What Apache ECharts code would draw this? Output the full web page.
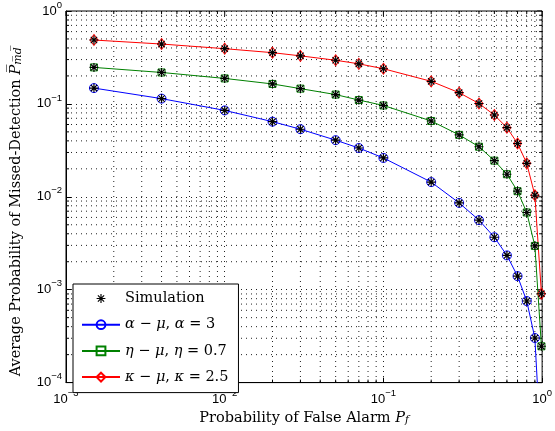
<!DOCTYPE html>
<html><head><meta charset="utf-8">
<script src="https://cdn.jsdelivr.net/npm/echarts@6/dist/echarts.min.js"></script>
<style>html,body{margin:0;padding:0;background:#fff}#c{width:555px;height:431px}</style>
</head><body><div id="c"></div>
<script>
// Probability of false alarm (x)
const pf = [0.0015, 0.004, 0.01, 0.02, 0.03, 0.05, 0.07, 0.1, 0.2, 0.3, 0.4, 0.5, 0.6, 0.7, 0.8, 0.9, 0.99];
// Average probability of missed detection (y)
const alphaMu = [0.148, 0.114, 0.0851, 0.0644, 0.0534, 0.0407, 0.0335, 0.0262, 0.0144, 0.00859, 0.00561, 0.00367, 0.00234, 0.00140, 0.000755, 0.000302, 0.000015];
const etaMu   = [0.247, 0.218, 0.188, 0.164, 0.146, 0.126, 0.110, 0.0962, 0.0655, 0.0464, 0.0346, 0.0245, 0.0175, 0.0115, 0.00678, 0.00296, 0.000246];
const kappaMu = [0.487, 0.441, 0.393, 0.356, 0.329, 0.295, 0.270, 0.239, 0.175, 0.132, 0.101, 0.0759, 0.0555, 0.0375, 0.0229, 0.0104, 0.000905];

const seriesNames = ['α − μ, α = 3', 'η − μ, η = 0.7', 'κ − μ, κ = 2.5'];
const simName = 'Simulation';

// axis ticks
const majorX = [0.001, 0.01, 0.1, 1];
const minorX = [0.002,0.003,0.004,0.005,0.006,0.007,0.008,0.009,
                0.02,0.03,0.04,0.05,0.06,0.07,0.08,0.09,
                0.2,0.3,0.4,0.5,0.6,0.7,0.8,0.9];
const majorY = [0.0001, 0.001, 0.01, 0.1, 1];
const minorY = [0.0002,0.0003,0.0004,0.0005,0.0006,0.0007,0.0008,0.0009,
                0.002,0.003,0.004,0.005,0.006,0.007,0.008,0.009,
                0.02,0.03,0.04,0.05,0.06,0.07,0.08,0.09,
                0.2,0.3,0.4,0.5,0.6,0.7,0.8,0.9];

const asterisk = 'path://M-1.3,-10L1.3,-10L1.3,10L-1.3,10Z M-10,-1.3L10,-1.3L10,1.3L-10,1.3Z M-7.99,-6.15L-6.15,-7.99L7.99,6.15L6.15,7.99Z M-7.99,6.15L6.15,-7.99L7.99,-6.15L-6.15,7.99Z';

const SERIF = '"DejaVu Serif", "Liberation Serif", serif';
const SANS = '"Liberation Sans", Arial, sans-serif';

function expLabel(v) {
  const e = Math.round(Math.log10(v));
  return '{b|10}{s|' + (e < 0 ? '\u2212' + (-e) : e) + '}';
}
const labelRich = {
  b: {fontSize: 13, fontFamily: SANS, color: '#000', lineHeight: 22},
  s: {fontSize: 9.5, fontFamily: SANS, color: '#000', lineHeight: 10, verticalAlign: 'top'}
};

const colors = ['#0000ff', '#008000', '#ff0000'];
const symbols = ['circle', 'rect', 'diamond'];
const sizes = [9, 7, [8, 11]];
const values = [alphaMu, etaMu, kappaMu];

const series = [];
// grid + ticks (decorative)
series.push({
  type: 'custom', silent: true, z: 1, clip: false,
  data: minorX.map(v => [v]), encode: {x: 0},
  renderItem: function (params, api) {
    const cs = params.coordSys;
    const px = api.coord([api.value(0), 1])[0];
    const top = cs.y, bot = cs.y + cs.height;
    return {type: 'group', children: [
      {type: 'line', shape: {x1: px, y1: top, x2: px, y2: bot}, style: {stroke: '#222', lineWidth: 1, lineDash: [1, 4]}},
      {type: 'line', shape: {x1: px, y1: bot, x2: px, y2: bot - 3}, style: {stroke: '#000', lineWidth: 1}},
      {type: 'line', shape: {x1: px, y1: top, x2: px, y2: top + 3}, style: {stroke: '#000', lineWidth: 1}}
    ]};
  }
});
series.push({
  type: 'custom', silent: true, z: 1, clip: false,
  data: minorY.map(v => [v]), encode: {y: 0},
  renderItem: function (params, api) {
    const cs = params.coordSys;
    const py = api.coord([0.01, api.value(0)])[1];
    const l = cs.x, r = cs.x + cs.width;
    return {type: 'group', children: [
      {type: 'line', shape: {x1: l, y1: py, x2: r, y2: py}, style: {stroke: '#222', lineWidth: 1, lineDash: [1, 4]}},
      {type: 'line', shape: {x1: l, y1: py, x2: l + 3, y2: py}, style: {stroke: '#000', lineWidth: 1}},
      {type: 'line', shape: {x1: r, y1: py, x2: r - 3, y2: py}, style: {stroke: '#000', lineWidth: 1}}
    ]};
  }
});
series.push({
  type: 'custom', silent: true, z: 1, clip: false,
  data: majorX.map(v => [v]), encode: {x: 0},
  renderItem: function (params, api) {
    const cs = params.coordSys;
    const px = api.coord([api.value(0), 1])[0];
    const top = cs.y;
    return {type: 'line', shape: {x1: px, y1: top, x2: px, y2: top + 5}, style: {stroke: '#000', lineWidth: 1}};
  }
});
series.push({
  type: 'custom', silent: true, z: 1, clip: false,
  data: majorY.map(v => [v]), encode: {y: 0},
  renderItem: function (params, api) {
    const cs = params.coordSys;
    const py = api.coord([0.01, api.value(0)])[1];
    const r = cs.x + cs.width;
    return {type: 'line', shape: {x1: r, y1: py, x2: r - 5, y2: py}, style: {stroke: '#000', lineWidth: 1}};
  }
});

for (let k = 0; k < 3; k++) {
  series.push({
    name: seriesNames[k], type: 'line', z: 3,
    data: pf.map((x, i) => [x, values[k][i]]),
    symbol: symbols[k], symbolSize: sizes[k], showAllSymbol: true,
    itemStyle: {color: 'rgba(255,255,255,0)', borderColor: colors[k], borderWidth: 1},
    lineStyle: {color: colors[k], width: 1},
    emphasis: {disabled: true}
  });
}
for (let k = 0; k < 3; k++) {
  series.push({
    name: simName, type: 'line', z: 4,
    data: pf.map((x, i) => [x, values[k][i]]),
    symbol: asterisk, symbolSize: 9, showAllSymbol: true,
    itemStyle: {color: '#000'},
    lineStyle: {width: 0, opacity: 0},
    emphasis: {disabled: true}
  });
}

const chart = echarts.init(document.getElementById('c'));
chart.setOption({
  animation: false,
  backgroundColor: '#fff',
  grid: {left: 66, right: 11, top: 9, bottom: 47, show: true, borderColor: '#000', borderWidth: 1, backgroundColor: 'transparent'},
  legend: {
    data: [simName].concat(seriesNames),
    orient: 'vertical', left: 73, top: 284,
    backgroundColor: '#fff', borderColor: '#000', borderWidth: 1, borderRadius: 0,
    padding: [7, 10, 8, 8],
    itemWidth: 38, itemHeight: 11, itemGap: 11.2,
    selectedMode: false,
    textStyle: {fontFamily: SERIF, fontSize: 14.5, color: '#000',
      rich: {g: {fontFamily: SERIF, fontSize: 14.5, fontStyle: 'italic', color: '#000'}}},
    formatter: n => n.replace(/([αμηκ])/g, '{g|$1}')
  },
  xAxis: {
    type: 'log', logBase: 10, min: 0.001, max: 1,
    axisLine: {show: true, lineStyle: {color: '#000', width: 1}},
    axisTick: {show: true, inside: true, length: 5, lineStyle: {color: '#000'}},
    splitLine: {show: true, lineStyle: {color: '#222', type: [1, 4], width: 1}},
    axisLabel: {margin: 6, formatter: expLabel, rich: labelRich},
    name: 'Probability of False Alarm {i|P}{sub|f}',
    nameLocation: 'middle', nameGap: 20,
    nameTextStyle: {fontFamily: SERIF, fontSize: 14.5, color: '#000',
      rich: {i: {fontFamily: SERIF, fontStyle: 'italic', fontSize: 14.5, color: '#000'},
             sub: {fontFamily: SERIF, fontStyle: 'italic', fontSize: 10.5, color: '#000', verticalAlign: 'bottom', lineHeight: 12}}}
  },
  yAxis: {
    type: 'log', logBase: 10, min: 0.0001, max: 1,
    axisLine: {show: true, lineStyle: {color: '#000', width: 1}},
    axisTick: {show: true, inside: true, length: 5, lineStyle: {color: '#000'}},
    splitLine: {show: true, lineStyle: {color: '#222', type: [1, 4], width: 1}},
    axisLabel: {margin: 4, formatter: expLabel, rich: labelRich},
    name: 'Average Probability of Missed-Detection {i|P\u0305}{sub|m\u0305d\u0305}',
    nameLocation: 'middle', nameGap: 42, nameRotate: 90,
    nameTextStyle: {fontFamily: SERIF, fontSize: 14.5, color: '#000', padding: [0, 30, 0, 0],
      rich: {i: {fontFamily: SERIF, fontStyle: 'italic', fontSize: 15, color: '#000'},
             sub: {fontFamily: SERIF, fontStyle: 'italic', fontSize: 11, color: '#000', verticalAlign: 'bottom', lineHeight: 12}}}
  },
  series: series
});
</script></body></html>
